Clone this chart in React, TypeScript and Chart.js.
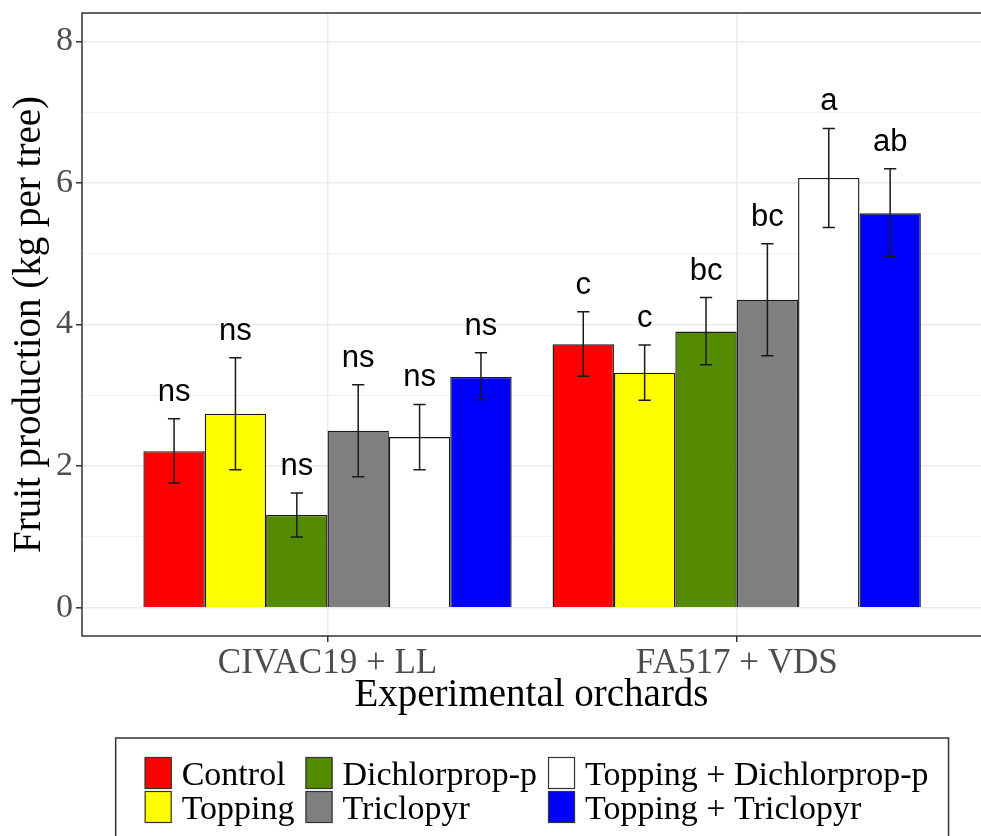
import React, { useEffect, useRef } from 'react';
import { Chart, registerables } from 'chart.js';

Chart.register(...registerables);

// ---- data ----
const orchards = ['CIVAC19 + LL', 'FA517 + VDS'];
const treatments = [
  'Control',
  'Topping',
  'Dichlorprop-p',
  'Triclopyr',
  'Topping + Dichlorprop-p',
  'Topping + Triclopyr',
];
const civacMeans = [2.21, 2.74, 1.31, 2.5, 2.41, 3.26];
const civacLower = [1.76, 1.95, 1.0, 1.85, 1.95, 2.94];
const civacUpper = [2.67, 3.53, 1.62, 3.15, 2.87, 3.6];
const civacLetters = ['ns', 'ns', 'ns', 'ns', 'ns', 'ns'];
const fa517Means = [3.72, 3.32, 3.9, 4.35, 6.07, 5.57];
const fa517Lower = [3.27, 2.93, 3.43, 3.56, 5.37, 4.96];
const fa517Upper = [4.18, 3.71, 4.38, 5.14, 6.77, 6.2];
const fa517Letters = ['c', 'c', 'bc', 'bc', 'a', 'ab'];
const yMajorTicks = [0, 2, 4, 6, 8];
const yMinorTicks = [1, 3, 5, 7];

// ---- style ----
const COLORS = ['#FF0000', '#FFFF00', '#548B00', '#7F7F7F', '#FFFFFF', '#0000FF'];
const SERIF = "'Liberation Serif', 'Times New Roman', serif";
const SANS = "'Liberation Sans', Arial, sans-serif";

const errorBarPlugin = {
  id: 'errorBars',
  afterDatasetsDraw(chart: any) {
    const ctx = chart.ctx;
    const y = chart.scales.y;
    chart.data.datasets.forEach((ds: any, i: number) => {
      const meta = chart.getDatasetMeta(i);
      meta.data.forEach((bar: any, j: number) => {
        const lo = y.getPixelForValue(ds.errLow[j]);
        const hi = y.getPixelForValue(ds.errHigh[j]);
        const x = bar.x;
        const half = bar.width * 0.1;
        ctx.save();
        ctx.strokeStyle = '#1a1a1a';
        ctx.lineWidth = 1.5;
        ctx.beginPath();
        ctx.moveTo(x, lo);
        ctx.lineTo(x, hi);
        ctx.moveTo(x - half, lo);
        ctx.lineTo(x + half, lo);
        ctx.moveTo(x - half, hi);
        ctx.lineTo(x + half, hi);
        ctx.stroke();
        ctx.fillStyle = '#000';
        ctx.font = `31px ${SANS}`;
        ctx.textAlign = 'center';
        ctx.textBaseline = 'alphabetic';
        ctx.fillText(ds.letters[j], x, hi - 18);
        ctx.restore();
      });
    });
  },
};

const panelBorderPlugin = {
  id: 'panelBorder',
  afterDraw(chart: any) {
    const { left, top, right, bottom } = chart.chartArea;
    const ctx = chart.ctx;
    ctx.save();
    ctx.strokeStyle = '#333333';
    ctx.lineWidth = 1.5;
    ctx.beginPath();
    ctx.moveTo(right + 5, top);
    ctx.lineTo(left, top);
    ctx.lineTo(left, bottom);
    ctx.lineTo(right + 5, bottom);
    ctx.stroke();
    ctx.restore();
  },
};

const legendPlugin = {
  id: 'customLegend',
  afterDraw(chart: any) {
    const ctx = chart.ctx;
    const datasets = chart.data.datasets;
    const fontSize = 34;
    ctx.save();
    ctx.font = `${fontSize}px ${SERIF}`;
    const keyW = 27;
    const keyH = 32;
    const rowGap = 2;
    const textGap = 10;
    const colGap = 11;
    const padL = 29;
    const padR = 20;
    const rows = 2;
    const cols = Math.ceil(datasets.length / rows);
    const colWidths: number[] = [];
    for (let c = 0; c < cols; c++) {
      let w = 0;
      for (let r = 0; r < rows; r++) {
        const ds = datasets[c * rows + r];
        if (ds) w = Math.max(w, ctx.measureText(ds.label).width);
      }
      colWidths.push(w);
    }
    const content =
      colWidths.reduce((a, b) => a + b, 0) + cols * (keyW + textGap) + (cols - 1) * colGap;
    const boxW = padL + content + padR;
    const center = chart.scales.x.getPixelForValue(1.5);
    const boxLeft = center - boxW / 2;
    const boxTop = 738;
    ctx.strokeStyle = '#333333';
    ctx.lineWidth = 1.5;
    ctx.strokeRect(boxLeft, boxTop, boxW, 120);
    let x = boxLeft + padL;
    const keyTop = 757;
    for (let c = 0; c < cols; c++) {
      for (let r = 0; r < rows; r++) {
        const ds = datasets[c * rows + r];
        if (!ds) continue;
        const ky = keyTop + r * (keyH + rowGap);
        ctx.fillStyle = ds.backgroundColor;
        ctx.fillRect(x, ky, keyW, keyH);
        ctx.strokeStyle = '#333333';
        ctx.lineWidth = 1.2;
        ctx.strokeRect(x + 0.5, ky + 0.5, keyW - 1, keyH - 1);
        ctx.fillStyle = '#000';
        ctx.textAlign = 'left';
        ctx.textBaseline = 'alphabetic';
        ctx.fillText(ds.label, x + keyW + textGap, ky + 28);
      }
      x += keyW + textGap + colWidths[c] + colGap;
    }
    ctx.restore();
  },
};

export default function App() {
  const canvasRef = useRef<HTMLCanvasElement | null>(null);

  useEffect(() => {
    document.body.style.margin = '0';
    const canvas = canvasRef.current;
    if (!canvas) return;

    const datasets = treatments.map((t, k) => ({
      label: t,
      data: [
        { x: 1, y: civacMeans[k] },
        { x: 2, y: fa517Means[k] },
      ],
      errLow: [civacLower[k], fa517Lower[k]],
      errHigh: [civacUpper[k], fa517Upper[k]],
      letters: [civacLetters[k], fa517Letters[k]],
      backgroundColor: COLORS[k],
      borderColor: '#1a1a1a',
      borderWidth: 1.4,
      barPercentage: 1,
      categoryPercentage: 0.9,
    }));

    const allYTicks = [...yMajorTicks, ...yMinorTicks].sort((a, b) => a - b);

    const chart = new Chart(canvas, {
      type: 'bar',
      data: { datasets: datasets as any },
      plugins: [errorBarPlugin, panelBorderPlugin, legendPlugin],
      options: {
        animation: false,
        responsive: false,
        devicePixelRatio: 1,
        layout: { padding: { top: 13, right: 0, bottom: 118, left: 0 } },
        plugins: {
          legend: { display: false },
          tooltip: { enabled: false },
        },
        scales: {
          x: {
            type: 'linear',
            min: 0.4,
            max: 2.597,
            offset: false,
            afterBuildTicks: (scale: any) => {
              scale.ticks = orchards.map((_, i) => ({ value: i + 1 }));
            },
            afterFit: (scale: any) => {
              scale.height = 82;
              scale.paddingLeft = 0;
              scale.paddingRight = 0;
            },
            grid: {
              offset: false,
              color: '#EBEBEB',
              lineWidth: 1.5,
              drawTicks: true,
              tickLength: 6,
              tickColor: '#333333',
              tickWidth: 1.5,
            },
            border: { display: false },
            ticks: {
              autoSkip: false,
              maxRotation: 0,
              padding: 1,
              color: '#4D4D4D',
              font: { family: SERIF, size: 35 },
              callback: (v: any) => orchards[Number(v) - 1] ?? '',
            },
            title: {
              display: true,
              text: 'Experimental orchards',
              color: '#000',
              font: { family: SERIF, size: 39 },
              padding: { top: 0, bottom: -1 },
            },
          },
          y: {
            type: 'linear',
            min: -0.4,
            max: 8.4,
            afterBuildTicks: (scale: any) => {
              scale.ticks = allYTicks.map((v) => ({ value: v }));
            },
            afterFit: (scale: any) => {
              scale.width = 82;
              scale.paddingTop = 0;
              scale.paddingBottom = 0;
            },
            grid: {
              color: (c: any) =>
                c.tick && yMajorTicks.includes(c.tick.value) ? '#EBEBEB' : '#F2F2F2',
              lineWidth: (c: any) =>
                c.tick && yMajorTicks.includes(c.tick.value) ? 1.6 : 1,
              drawTicks: true,
              tickLength: 6,
              tickColor: (c: any) =>
                c.tick && yMajorTicks.includes(c.tick.value) ? '#333333' : 'rgba(0,0,0,0)',
              tickWidth: 1.5,
            },
            border: { display: false },
            ticks: {
              padding: 3,
              color: '#4D4D4D',
              font: { family: SERIF, size: 34 },
              callback: (v: any) => (yMajorTicks.includes(Number(v)) ? String(v) : ''),
            },
            title: {
              display: true,
              text: 'Fruit production (kg per tree)',
              color: '#000',
              font: { family: SERIF, size: 39 },
              padding: { top: 6, bottom: 0 },
            },
          },
        },
      } as any,
    });

    return () => chart.destroy();
  }, []);

  return (
    <div style={{ width: 981, height: 836, background: '#fff' }}>
      <canvas ref={canvasRef} width={981} height={836} style={{ display: 'block' }} />
    </div>
  );
}
